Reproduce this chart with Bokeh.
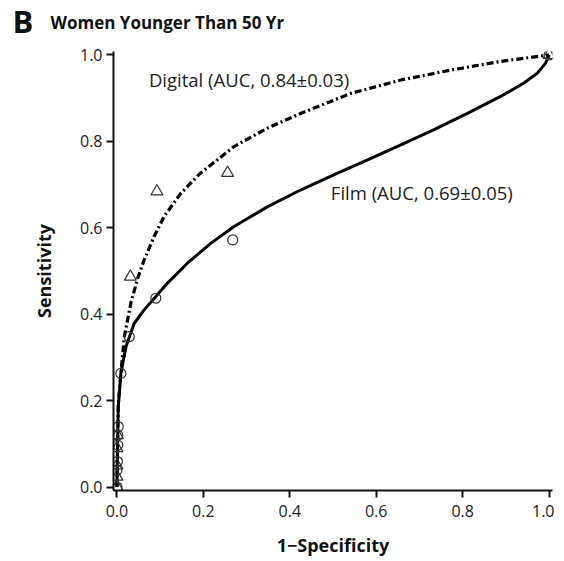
from bokeh.plotting import figure
from bokeh.models import Range1d, FixedTicker, Label
from bokeh.layouts import column
from bokeh.embed import file_html
from bokeh.resources import INLINE

# ---- data ----
tick_values = [0.0, 0.2, 0.4, 0.6, 0.8, 1.0]
tick_labels = ["0.0", "0.2", "0.4", "0.6", "0.8", "1.0"]

digital_curve_x = [0.0, 0.003, 0.009, 0.017, 0.032, 0.048, 0.063, 0.086, 0.109, 0.148, 0.194,
                   0.271, 0.349, 0.426, 0.541, 0.657, 0.773, 0.888, 1.0]
digital_curve_y = [0.0, 0.19, 0.263, 0.348, 0.425, 0.483, 0.526, 0.580, 0.626, 0.680, 0.727,
                   0.788, 0.831, 0.865, 0.911, 0.942, 0.965, 0.985, 1.0]

film_curve_x = [0.0, 0.003, 0.009, 0.021, 0.040, 0.063, 0.090, 0.117, 0.163, 0.217, 0.271,
                0.349, 0.426, 0.503, 0.580, 0.657, 0.734, 0.811, 0.888, 0.942, 0.973, 0.992, 1.0]
film_curve_y = [0.0, 0.186, 0.263, 0.325, 0.379, 0.410, 0.441, 0.472, 0.518, 0.564, 0.603,
                0.649, 0.688, 0.723, 0.757, 0.792, 0.827, 0.865, 0.904, 0.935, 0.958, 0.981, 1.0]

digital_pts_x = [0.0, 0.0, 0.0, 0.0, 0.001, 0.031, 0.0925, 0.256, 1.0]
digital_pts_y = [0.0, 0.024, 0.050, 0.090, 0.120, 0.487, 0.684, 0.727, 1.0]

film_pts_x = [0.0, 0.0, 0.001, 0.002, 0.002, 0.003, 0.009, 0.0285, 0.090, 0.268, 1.0]
film_pts_y = [0.0, 0.039, 0.059, 0.097, 0.120, 0.140, 0.263, 0.348, 0.437, 0.572, 1.0]

title_letter = "B"
title_text = "Women Younger Than 50 Yr"
digital_label = "Digital (AUC, 0.84\u00b10.03)"
film_label = "Film (AUC, 0.69\u00b10.05)"
x_title = "1\u2212Specificity"
y_title = "Sensitivity"

FONT = "Open Sans"
pad = 0.008
FIG_W = 554
HEAD_H = 40

# ---- header strip holding the panel letter and the title ----
head = figure(width=FIG_W, height=HEAD_H, output_backend="svg", toolbar_location=None,
              x_range=Range1d(0, FIG_W), y_range=Range1d(0, HEAD_H),
              x_axis_location=None, y_axis_location=None, min_border=0,
              frame_align=False)
head.outline_line_color = None
head.grid.visible = False
head.add_layout(Label(x=12, y=HEAD_H - 20, text=title_letter, text_font=FONT,
                      text_font_size="31px", text_font_style="bold", text_color="#111111",
                      text_baseline="middle", text_align="left"))
head.add_layout(Label(x=50, y=HEAD_H - 22, text=title_text, text_font=FONT,
                      text_font_size="17px", text_font_style="bold", text_color="#111111",
                      text_baseline="middle", text_align="left"))

# ---- main ROC plot ----
p = figure(output_backend="svg", toolbar_location=None,
           x_range=Range1d(-pad, 1 + pad), y_range=Range1d(-pad, 1 + pad),
           frame_width=439, frame_height=439, frame_align=False,
           min_border_left=113, min_border_right=2, min_border_top=11, min_border_bottom=60)
p.outline_line_color = None
p.grid.visible = False
p.background_fill_color = "white"

for ax in (p.xaxis[0], p.yaxis[0]):
    ax.ticker = FixedTicker(ticks=tick_values)
    ax.major_label_overrides = {v: s for v, s in zip(tick_values, tick_labels)}
    ax.axis_line_width = 2
    ax.axis_line_color = "#111111"
    ax.major_tick_line_width = 2
    ax.major_tick_line_color = "#111111"
    ax.major_tick_out = 7
    ax.major_tick_in = 0
    ax.minor_tick_line_color = None
    ax.major_label_text_font = FONT
    ax.major_label_text_font_size = "16px"
    ax.major_label_text_color = "#222222"
    ax.axis_label_text_font = FONT
    ax.axis_label_text_font_size = "18px"
    ax.axis_label_text_font_style = "bold"
    ax.axis_label_text_color = "#111111"

p.xaxis.axis_label = x_title
p.yaxis.axis_label = y_title
p.xaxis.major_label_standoff = 7
p.xaxis.axis_label_standoff = 13
p.yaxis.major_label_standoff = 4
p.yaxis.axis_label_standoff = 21

p.line(film_curve_x, film_curve_y, line_color="black", line_width=3)
p.line(digital_curve_x, digital_curve_y, line_color="black", line_width=3.2,
       line_dash="7 3 2 3")

p.scatter(film_pts_x, film_pts_y, marker="circle", size=10, fill_color=None,
          line_color="#333333", line_width=1.2)
p.scatter(digital_pts_x, digital_pts_y, marker="triangle", size=12, fill_color=None,
          line_color="#333333", line_width=1.2)

p.add_layout(Label(x=0.074, y=0.943, text=digital_label, text_font=FONT,
                   text_font_size="18.5px", text_color="#222222",
                   text_baseline="middle", text_align="left"))
p.add_layout(Label(x=0.495, y=0.681, text=film_label, text_font=FONT,
                   text_font_size="18.5px", text_color="#222222",
                   text_baseline="middle", text_align="left"))

layout = column(head, p, spacing=0)
open("out.html", "w").write(file_html(layout, INLINE))
